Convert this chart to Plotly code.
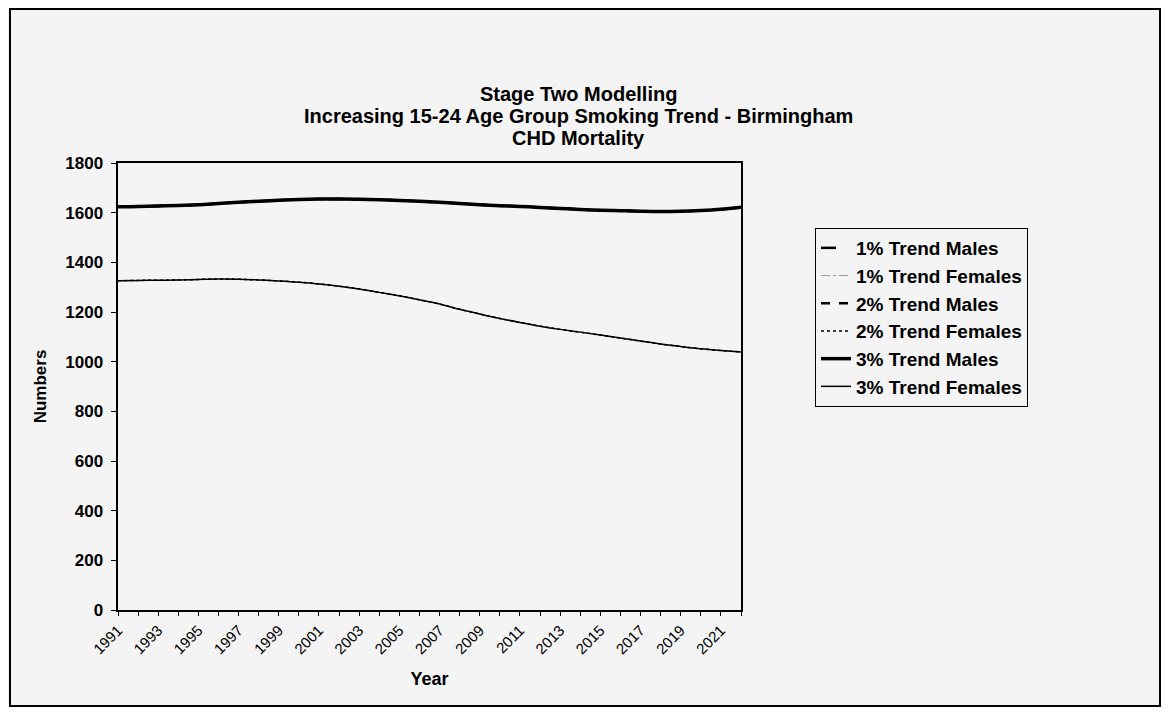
import plotly.graph_objects as go

years = list(range(1991, 2023))
year_labels = [str(y) if (y - 1991) % 2 == 0 else "" for y in years]

title_lines = [
    "Stage Two Modelling",
    "Increasing 15-24 Age Group Smoking Trend - Birmingham",
    "CHD Mortality",
]

# 3% trend series
males_3 = [1624, 1625, 1627, 1629, 1632, 1637, 1642, 1646, 1650, 1653,
           1655, 1655, 1654, 1652, 1649, 1646, 1642, 1637, 1632, 1628,
           1625, 1621, 1617, 1613, 1610, 1608, 1606, 1605, 1606, 1609,
           1614, 1622]
females_3 = [1326, 1327, 1328, 1329, 1331, 1333, 1332, 1329, 1325, 1320,
             1313, 1304, 1293, 1279, 1265, 1249, 1232, 1211, 1192, 1174,
             1158, 1143, 1130, 1119, 1107, 1095, 1083, 1071, 1061, 1052,
             1045, 1039]
# the 1% and 2% lines sit under the 3% lines in the print
males_1 = list(males_3)
females_1 = list(females_3)
males_2 = list(males_3)
females_2 = list(females_3)

series = [
    ("1% Trend Males", males_1, dict(color="black", width=2.5, dash="longdash")),
    ("1% Trend Females", females_1, dict(color="#9a9a9a", width=1, dash="dashdot")),
    ("2% Trend Males", males_2, dict(color="black", width=2.5, dash="dash")),
    ("2% Trend Females", females_2, dict(color="black", width=1.5, dash="dot")),
    ("3% Trend Males", males_3, dict(color="black", width=3.5)),
    ("3% Trend Females", females_3, dict(color="black", width=1.5)),
]

# page body has an 8px margin, so work in window pixels minus 8
OFF = 8
W, H = 1169 - 2 * OFF, 715 - 2 * OFF
L, R, T, B = 118 - OFF, 741 - OFF, 163 - OFF, 610 - OFF
bg = "#f4f4f4"
font = "Liberation Sans, Arial, sans-serif"

fig = go.Figure()
for i, (name, vals, line) in enumerate(series):
    fig.add_trace(go.Scatter(
        x=years, y=vals, name="<b>" + name + "</b>", mode="lines",
        line=line, line_shape="spline", legendgroup=str(i)
    ))


def px(x):
    return (x - OFF - L) / (R - L)


def py(y):
    return (B - (y - OFF)) / (B - T)


annotations = []
for text, yc in zip(title_lines, [94, 116, 138]):
    annotations.append(dict(
        text="<b>" + text + "</b>", xref="paper", yref="paper",
        x=px(578), y=py(yc), xanchor="center", yanchor="middle",
        showarrow=False, font=dict(size=20)
    ))

fig.update_layout(
    width=W, height=H,
    margin=dict(l=L, r=W - R, t=T, b=H - B),
    paper_bgcolor=bg, plot_bgcolor=bg,
    font=dict(family=font, size=15, color="black"),
    annotations=annotations,
    xaxis=dict(
        range=[1991, 2022], tickvals=years, ticktext=year_labels,
        tickangle=-45, ticks="outside", ticklen=4, tickcolor="black",
        showgrid=False, zeroline=False, showline=True, linecolor="black",
        linewidth=1.5, mirror=True,
        tickfont=dict(size=15), tickprefix="<b>", ticksuffix="</b>",
        title=dict(text="<b>Year</b>", font=dict(size=18), standoff=16)
    ),
    yaxis=dict(
        range=[0, 1800], dtick=200, ticks="outside", ticklen=5,
        tickcolor="black", showgrid=False, zeroline=False, showline=True,
        linecolor="black", linewidth=1.5, mirror=True,
        tickfont=dict(size=17), tickprefix="<b>", ticksuffix="</b> ",
        title=dict(text="<b>Numbers</b>", font=dict(size=17), standoff=14)
    ),
    legend=dict(
        x=px(815), y=py(228), xanchor="left", yanchor="top",
        bgcolor=bg, bordercolor="black", borderwidth=1,
        font=dict(size=19), traceorder="grouped", tracegroupgap=0
    ),
    shapes=[dict(
        type="rect", xref="paper", yref="paper",
        x0=px(10), x1=px(1160), y0=py(706), y1=py(9),
        line=dict(color="black", width=2), layer="below"
    )]
)

fig.write_html("out.html")
